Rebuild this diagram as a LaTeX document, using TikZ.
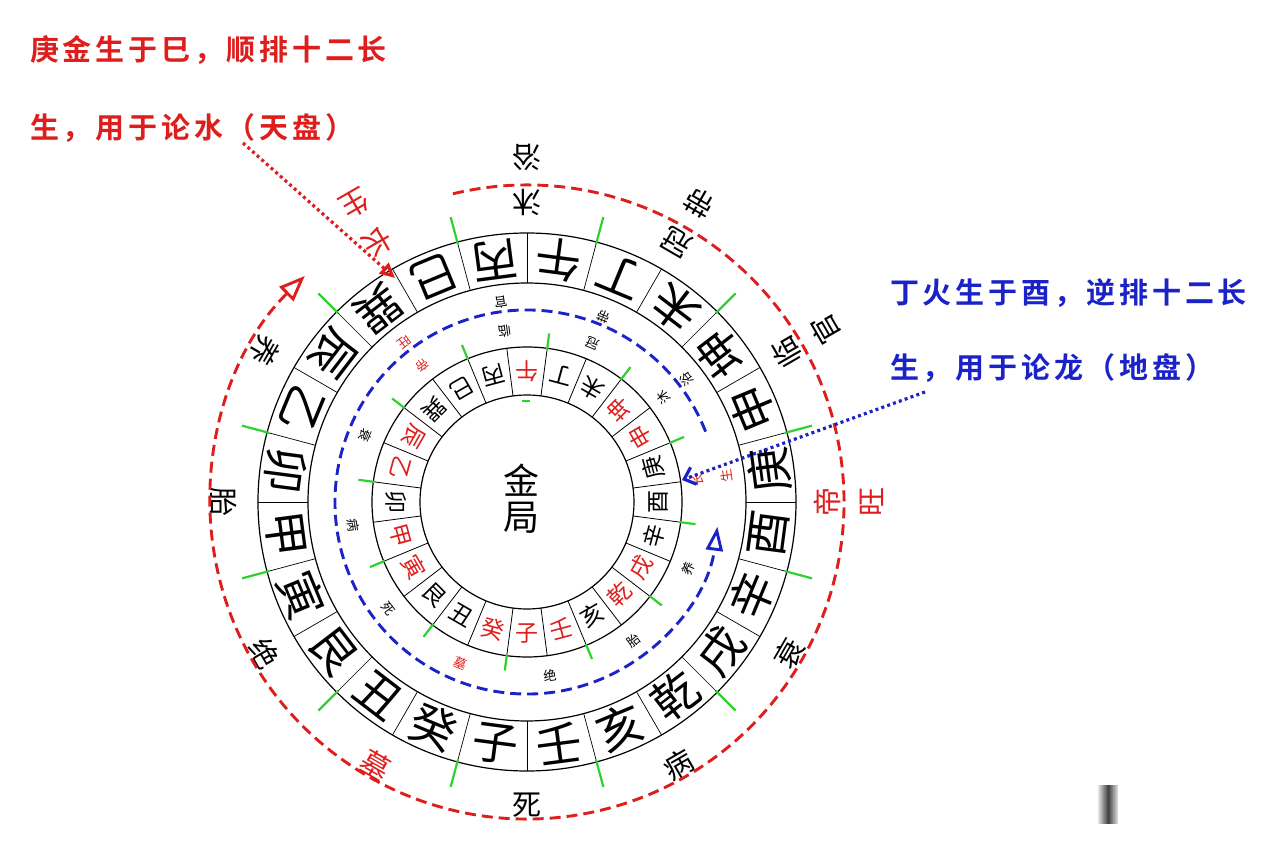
\documentclass[tikz,border=0pt]{standalone}
\usepackage{fontspec}
\setmainfont{Noto Sans CJK SC}[BoldFont={* Bold}]
\usetikzlibrary{arrows.meta}
\definecolor{hongse}{RGB}{222,30,28}
\definecolor{lanse}{RGB}{26,34,200}
\definecolor{lvse}{RGB}{46,210,46}
\tikzset{
  dazi/.style={inner sep=0pt,font=\fontsize{46}{46}\selectfont},
  xiaozi/.style={inner sep=0pt,font=\fontsize{23}{23}\selectfont},
  waisheng/.style={inner sep=0pt,font=\fontsize{29}{29}\selectfont},
  neisheng/.style={inner sep=0pt,font=\fontsize{13}{13}\selectfont},
  zhongzi/.style={inner sep=0pt,font=\fontsize{36}{36}\selectfont},
  zhu/.style={inner sep=0pt,anchor=west,font=\bfseries\fontsize{29}{29}\selectfont\addfontfeature{LetterSpace=13}},
  lvgou/.style={lvse,line width=2.2pt},
  hongxu/.style={hongse,line width=2.9pt,dash pattern=on 11pt off 6pt},
  lanxu/.style={lanse,line width=2.9pt,dash pattern=on 11pt off 6pt},
  hongdian/.style={hongse,line width=3.2pt,dash pattern=on 3pt off 3.2pt},
  landian/.style={lanse,line width=3.2pt,dash pattern=on 3pt off 3.2pt}
}

\begin{document}
\begin{tikzpicture}[x=1pt,y=1pt]
\useasboundingbox (-527,-344) rectangle (753,502);

% Outer ring (tianpan)
\draw[line width=1.2pt] (0,0) circle (269);
\draw[line width=1.2pt] (0,0) circle (219);
\foreach \a in {0,15,...,345} \draw[line width=0.7pt] (\a:219) -- (\a:269);
\foreach \z [count=\i from 0] in {午,丁,未,坤,申,庚,酉,辛,戌,乾,亥,壬,子,癸,丑,艮,寅,甲,卯,乙,辰,巽,巳,丙}
  \node[dazi,rotate={172.5-15*\i}] (wai\i) at ({82.5-15*\i}:244) {\z};
\foreach \a in {15,45,...,345} \draw[lvgou] (\a:267) -- (\a:295);

% Inner ring (dipan)
\draw[line width=1.2pt] (0,0) circle (155);
\draw[line width=1.2pt] (0,0) circle (107);
\foreach \a in {7.5,22.5,...,352.5} \draw[line width=0.8pt] (\a:107) -- (\a:155);
\foreach \z/\c [count=\i from 0] in {午/hongse,丁/black,未/black,坤/hongse,申/hongse,庚/black,酉/black,辛/black,戌/hongse,乾/hongse,亥/black,壬/hongse,子/hongse,癸/hongse,丑/black,艮/black,寅/hongse,甲/hongse,卯/black,乙/hongse,辰/hongse,巽/black,巳/black,丙/black}
  \node[xiaozi,text=\c,rotate={180-15*\i}] (nei\i) at ({90-15*\i}:131) {\z};
\foreach \a in {22.5,52.5,...,352.5} \draw[lvgou] (\a:154) -- (\a:170);
\draw[lvgou] (-5,101) -- (3,101);

% Center
\node[zhongzi] (jin) at (-5,22) {金};
\node[zhongzi] (ju) at (-5,-16) {局};

% Twelve stages, forward (outer)
\foreach \a/\p/\q/\c [count=\k] in {120/长/生/hongse,90/沐/浴/black,60/冠/带/black,30/临/官/black,0/帝/旺/hongse}{
  \node[waisheng,text=\c,rotate=\a+90] (wsa\k) at (\a:300) {\p};
  \node[waisheng,text=\c,rotate=\a+90] (wsb\k) at (\a:345) {\q};
}
\foreach \a/\p/\c [count=\k] in {-30/衰/black,-60/病/black,-90/死/black,-120/墓/hongse,-150/绝/black,180/胎/black,150/养/black}
  \node[waisheng,text=\c,rotate=\a+90] (wsc\k) at (\a:303) {\p};

% Twelve stages, backward (inner)
\foreach \a/\p/\q/\c [count=\k] in {7.5/长/生/hongse,37.5/沐/浴/black,67.5/冠/带/black,97.5/临/官/black,127.5/帝/旺/hongse}{
  \node[neisheng,text=\c,rotate=\a+90] (nsa\k) at (\a:172) {\p};
  \node[neisheng,text=\c,rotate=\a+90] (nsb\k) at (\a:201) {\q};
}
\foreach \a/\p/\c [count=\k] in {157.5/衰/black,187.5/病/black,217.5/死/black,247.5/墓/hongse,277.5/绝/black,307.5/胎/black,337.5/养/black}
  \node[neisheng,text=\c,rotate=\a+90] (nsc\k) at (\a:175) {\p};

% Spiral arrows
\draw[hongxu,-{Triangle[open,length=26pt,width=20pt]}] (103.5:317) arc[start angle=103.5,end angle=-225.5,radius=317];
\draw[lanxu,-{Triangle[open,length=24pt,width=17pt]}] (21.5:192) arc[start angle=21.5,end angle=352.6,radius=192];

% Notes
\node[zhu,text=hongse] (hong1) at (-497,452) {庚金生于巳，顺排十二长};
\node[zhu,text=hongse] (hong2) at (-497,374) {生，用于论水（天盘）};
\node[zhu,text=lanse] (lan1) at (363,209) {丁火生于酉，逆排十二长};
\node[zhu,text=lanse] (lan2) at (363,134) {生，用于论龙（地盘）};
\coordinate (tianpan) at (-284,359);
\coordinate (sichu) at (-132,224);
\coordinate (dipan) at (398,110);
\coordinate (youchu) at (155,22);
\draw[hongdian,-{Triangle[open,length=15pt,width=14pt]}] (tianpan) -- (sichu);
\draw[landian,-{Straight Barb[length=10pt,width=18pt]}] (dipan) -- (youchu);

% Mark in the corner
\shade[left color=gray!20,right color=gray!20,middle color=black!75] (571,-283) rectangle (591,-321);
\end{tikzpicture}
\end{document}
